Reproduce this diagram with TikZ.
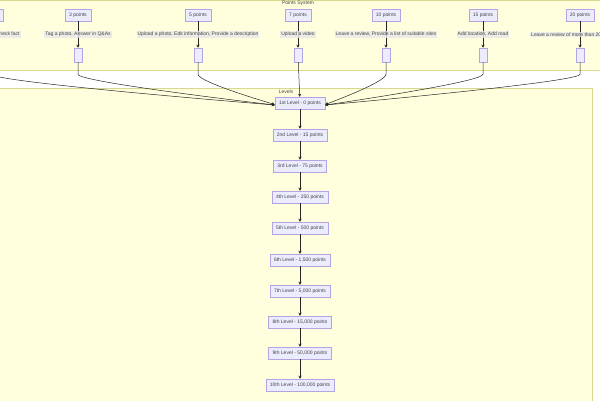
\documentclass[tikz,border=0pt]{standalone}
\usepackage{fontspec}
\setmainfont{Liberation Sans}
\usetikzlibrary{positioning,arrows.meta}
\definecolor{clusterfill}{HTML}{FFFFDE}
\definecolor{clusterline}{HTML}{D8D890}
\definecolor{nodefill}{HTML}{ECECFF}
\definecolor{nodeline}{HTML}{B4A4E4}
\definecolor{labelfill}{HTML}{E8E8E8}
\definecolor{inktext}{HTML}{444444}
\tikzset{
  pts/.style={draw=nodeline,fill=nodefill,line width=0.5pt,minimum height=12pt,inner xsep=4pt,inner ysep=0pt},
  lvl/.style={pts},
  slot/.style={draw=nodeline,fill=nodefill,line width=0.5pt,minimum width=8pt,minimum height=14pt,inner sep=0pt},
  act/.style={fill=labelfill,fill opacity=0.8,text opacity=1,inner sep=1pt},
  link/.style={draw=black!85,line width=0.5pt,-{Stealth[length=3pt,width=3pt]}}
}
\begin{document}
\begin{tikzpicture}[x=1pt,y=-1pt,font=\fontsize{5}{6}\selectfont,text=inktext]
\useasboundingbox (0,0) rectangle (600,400);
\clip (0,0) rectangle (600,400);
% frames
\draw[fill=clusterfill,draw=clusterline,line width=0.5pt] (-20,0.5) rectangle (620,70);
\node at (298,3.5) {Points System};
\draw[fill=clusterfill,draw=clusterline,line width=0.5pt] (-20,88) rectangle (592,420);
\node at (286,91.5) {Levels};
% levels
\node[lvl] (l1) at (300,103) {1st Level - 0 points};
\node[lvl] (l2) at (300,135) {2nd Level - 15 points};
\node[lvl] (l3) at (300,166) {3rd Level - 75 points};
\node[lvl] (l4) at (300,197) {4th Level - 250 points};
\node[lvl] (l5) at (300,228) {5th Level - 500 points};
\node[lvl] (l6) at (300,260) {6th Level - 1,500 points};
\node[lvl] (l7) at (300,291) {7th Level - 5,000 points};
\node[lvl] (l8) at (300,322) {8th Level - 15,000 points};
\node[lvl] (l9) at (300,353) {9th Level - 50,000 points};
\node[lvl] (l10) at (300,385) {10th Level - 100,000 points};
\foreach \a/\b in {l1/l2,l2/l3,l3/l4,l4/l5,l5/l6,l6/l7,l7/l8,l8/l9,l9/l10}
  \draw[link] (\a) -- (\b);
% points
\foreach \n/\x/\t/\d in {
  p1/-8/1 point/{Rate a photo, Check fact},
  p3/78/3 points/{Tag a photo, Answer in Q\&As},
  p5/198/5 points/{Upload a photo, Edit information, Provide a description},
  p7/298/7 points/{Upload a video},
  p10/386/10 points/{Leave a review, Provide a list of suitable sites},
  p15/483/15 points/{Add location, Add road},
  p20/580/20 points/{Leave a review of more than 200 characters}}{
  \node[pts] (\n) at (\x,15) {\t};
  \node[slot] (s\n) at (\x,55) {};
  \draw[link] (\n) -- node[act] {\d} (s\n);
}
% curves into the first level
\foreach \n/\y/\s in {p1/101/west,p3/101/west,p5/101.5/west,p10/101.5/east,p15/101/east,p20/101/east}
  \draw[link] (s\n.south) -- ++(0,12) .. controls +(0,8) and +(0,0) .. ([yshift=\y-103]l1.\s);
\draw[link] (sp7) -- (l1);
\end{tikzpicture}
\end{document}
